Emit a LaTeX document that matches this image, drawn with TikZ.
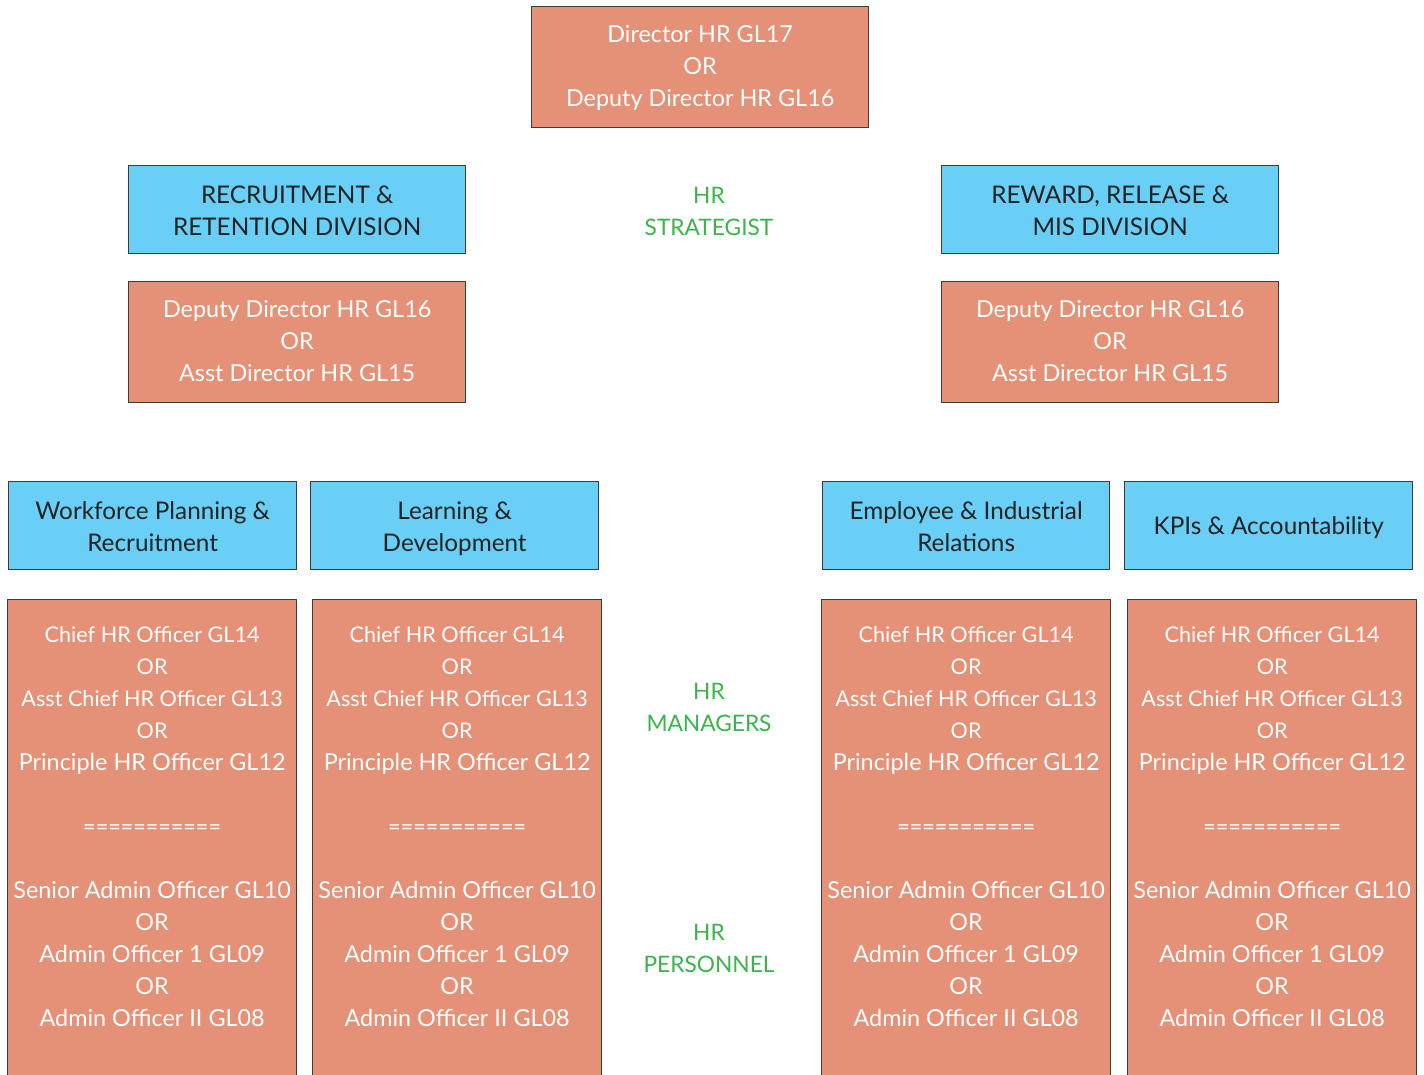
\documentclass[tikz,border=0pt]{standalone}
\usepackage{fontspec}
\setmainfont{Lato}
\definecolor{salmon}{HTML}{E59178}
\definecolor{sky}{HTML}{69CFF6}
\definecolor{hrgreen}{HTML}{3AB54A}
\definecolor{edgegray}{HTML}{3C3C3C}
\definecolor{darktext}{HTML}{222222}
\begin{document}
\begin{tikzpicture}[x=1pt,y=-1pt,
  orangebox/.style={draw=edgegray,line width=1.3pt,fill=salmon,inner sep=0pt,anchor=north west},
  bluebox/.style={draw=edgegray,line width=1.3pt,fill=sky,inner sep=0pt,anchor=north west},
  wtext/.style={text=white,align=center,inner sep=0pt,font=\fontsize{23.4}{32}\selectfont},
  btext/.style={text=darktext,align=center,inner sep=0pt,font=\fontsize{24.3}{32}\selectfont},
  gtext/.style={text=hrgreen,align=center,inner sep=0pt,font=\fontsize{22.7}{32}\selectfont}]
\useasboundingbox (0,0) rectangle (1424,1075);
\fill[white] (0,0) rectangle (1424,1075);

% top
\node[orangebox,minimum width=337pt,minimum height=121pt] (top) at (531,6) {};
\node[wtext] (toptxt) at ([yshift=-1pt]top.center) {Director HR GL17\\OR\\Deputy Director HR GL16};

% divisions
\node[bluebox,minimum width=337pt,minimum height=88pt] (recdiv) at (128,165) {};
\node[btext] (recdivtxt) at ([yshift=-1pt]recdiv.center) {RECRUITMENT \&\\RETENTION DIVISION};
\node[bluebox,minimum width=337pt,minimum height=88pt] (rewdiv) at (941,165) {};
\node[btext] (rewdivtxt) at ([yshift=-1pt]rewdiv.center) {REWARD, RELEASE \&\\MIS DIVISION};

\node[orangebox,minimum width=337pt,minimum height=121pt] (recdep) at (128,281) {};
\node[wtext] (recdeptxt) at ([yshift=1pt]recdep.center) {Deputy Director HR GL16\\OR\\Asst Director HR GL15};
\node[orangebox,minimum width=337pt,minimum height=121pt] (rewdep) at (941,281) {};
\node[wtext] (rewdeptxt) at ([yshift=1pt]rewdep.center) {Deputy Director HR GL16\\OR\\Asst Director HR GL15};

% units
\node[bluebox,minimum width=288pt,minimum height=88pt] (u1) at (8,481) {};
\node[btext] (u1txt) at ([yshift=-1pt]u1.center) {Workforce Planning \&\\Recruitment};
\node[bluebox,minimum width=288pt,minimum height=88pt] (u2) at (310,481) {};
\node[btext] (u2txt) at ([yshift=-3pt]u2.center) {Learning \&\\Development};
\node[bluebox,minimum width=287pt,minimum height=88pt] (u3) at (822,481) {};
\node[btext] (u3txt) at ([yshift=-1pt]u3.center) {Employee \& Industrial\\Relations};
\node[bluebox,minimum width=288pt,minimum height=88pt] (u4) at (1124,481) {};
\node[btext] (u4txt) at ([yshift=-2pt]u4.center) {KPIs \& Accountability};

% tall boxes
\foreach \nm/\x in {s1/7,s2/312,s3/821,s4/1127}{
  \node[orangebox,minimum width=289pt,minimum height=500pt] (\nm) at (\x,599) {};
  \node[wtext,anchor=center] (\nm txt) at (\nm.north |- 0,827) {%
    {\fontsize{21.6}{32}\selectfont Chief HR Officer GL14}\\
    {\fontsize{21.6}{32}\selectfont OR}\\
    {\fontsize{21.6}{32}\selectfont Asst Chief HR Officer GL13}\\
    {\fontsize{21.6}{32}\selectfont OR}\\
    Principle HR Officer GL12\\
    \mbox{}\\
    {\fontsize{21.6}{32}\selectfont ===========}\\
    \mbox{}\\
    Senior Admin Officer GL10\\
    OR\\
    Admin Officer 1 GL09\\
    OR\\
    Admin Officer II GL08};
}

% green labels
\node[gtext] (strat) at (709,211) {HR\\STRATEGIST};
\node[gtext] (mgr) at (709,707) {HR\\MANAGERS};
\node[gtext] (pers) at (709,948) {HR\\PERSONNEL};
\end{tikzpicture}
\end{document}
